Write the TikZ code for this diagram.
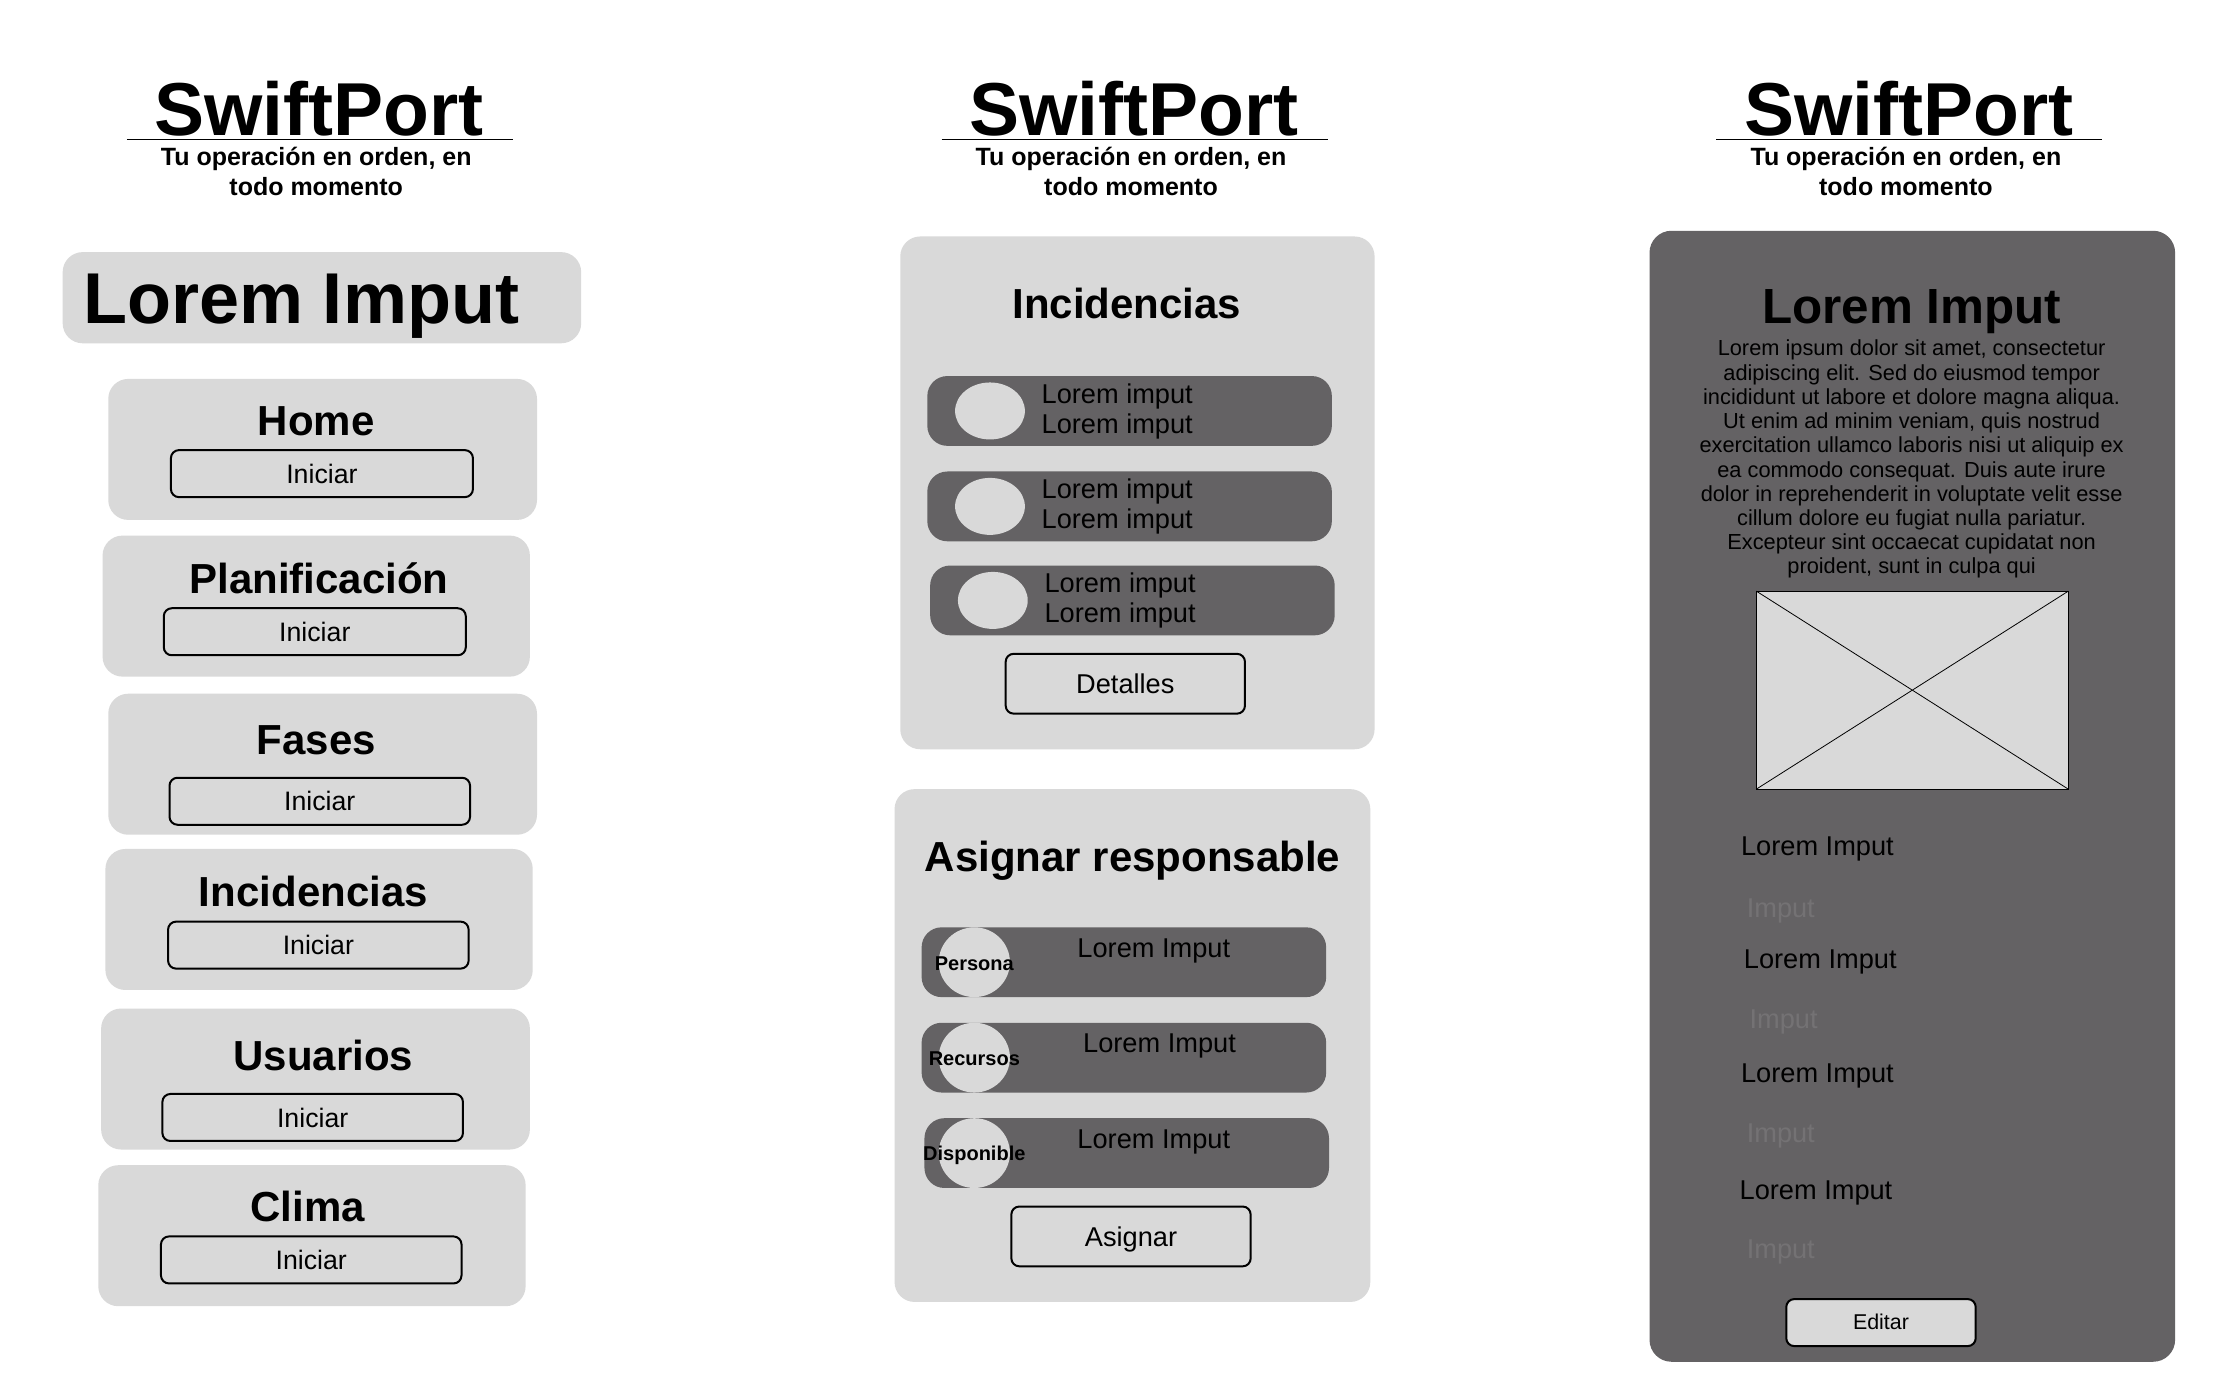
\documentclass[tikz,border=0pt]{standalone}
\usepackage{fontspec}
\setmainfont{Liberation Sans}
\definecolor{lightg}{HTML}{D9D9D9}
\definecolor{darkg}{HTML}{646264}
\definecolor{faintg}{HTML}{747274}
\newcommand{\fsz}[1]{\fontsize{#1}{#1}\selectfont}
\tikzset{
  lbl/.style={inner sep=0pt, anchor=base},
  lblw/.style={inner sep=0pt, anchor=base west},
  cardbox/.style={fill=lightg, rounded corners=10pt},
  rowbox/.style={fill=darkg, rounded corners=10pt},
  btnbox/.style={draw=black, line width=1pt, rounded corners=4pt},
  brand/.style={lbl, font=\fsz{37.5}\bfseries},
  tagline/.style={inner sep=0pt, anchor=base, align=center, font=\fontsize{12.5}{14.9}\selectfont\bfseries},
  cardtitle/.style={lbl, font=\fsz{21}\bfseries},
  btntext/.style={lbl, font=\fsz{13.35}},
  rowtext/.style={lblw, font=\fsz{13.6}},
  tagtext/.style={lbl, font=\fsz{10}\bfseries},
}
\begin{document}
\begin{tikzpicture}[x=0.7122pt,y=-0.7122pt]
\useasboundingbox[fill=white] (0,0) rectangle (1555,972.4);

% ---------- headers ----------
\foreach \cx/\lx/\rx/\nm in {224/89/360/a, 796/661/932/b, 1340/1205/1476/c}{
  \node[brand] (brand\nm) at (\cx,95) {SwiftPort};
  \draw[line width=0.7pt] (\lx,98) -- (\rx,98);
  \node[tagline] (tag\nm) at (\cx-2,137) {Tu operación en orden, en\\todo momento};
}

% ---------- left column ----------
\fill[cardbox] (44,177) rectangle (408,241);
\node[lblw, font=\fsz{36}\bfseries] (bigtitle) at (58,227) {Lorem Imput};

\foreach \xa/\ya/\xb/\yb/\tt/\tx/\ty/\bxa/\bya/\bxb/\byb/\nm in {
  76/266/377/365/Home/222/295/120/316/332/349/h,
  72/376/372/475/Planificación/224/406/115/427/327/460/p,
  76/487/377/586/Fases/222/519/119/546/330/579/f,
  74/596/374/695/Incidencias/220/626/118/647/329/680/i,
  71/708/372/807/Usuarios/227/741/114/768/325/801/u,
  69/818/369/917/Clima/216/847/113/868/324/901/c}{
  \fill[cardbox] (\xa,\ya) rectangle (\xb,\yb);
  \node[cardtitle] (title\nm) at (\tx,\ty+10.5) {\tt};
  \draw[btnbox] (\bxa,\bya) rectangle (\bxb,\byb);
  \node[btntext] (btn\nm) at ({(\bxa+\bxb)/2},{(\bya+\byb)/2+6.7}) {Iniciar};
}

% ---------- middle column: Incidencias ----------
\fill[cardbox] (632,166) rectangle (965,526);
\node[cardtitle] (inctitle) at (791,223.5) {Incidencias};
\foreach \xa/\ya/\nm in {651/264/a, 651/331/b, 653/397/c}{
  \fill[rowbox] (\xa,\ya) rectangle (\xa+284,\ya+49);
  \fill[lightg] (\xa+44,\ya+24.5) ellipse [x radius=24.5, y radius=20];
  \node[rowtext] (inca\nm) at (\xa+80,\ya+19) {Lorem imput};
  \node[rowtext] (incb\nm) at (\xa+80,\ya+40) {Lorem imput};
}
\draw[btnbox] (706,459) rectangle (874,501);
\node[btntext, font=\fsz{13.6}] (detalles) at (790,486.8) {Detalles};

% ---------- middle column: Asignar responsable ----------
\fill[cardbox] (628,554) rectangle (962,914);
\node[cardtitle] (asigtitle) at (795,611.5) {Asignar responsable};
\foreach \xa/\ya/\tg/\lx/\nm in {647/651/Persona/810/a, 647/718/Recursos/814/b, 649/785/Disponible/810/c}{
  \fill[rowbox] (\xa,\ya) rectangle (\xa+284,\ya+49);
  \fill[lightg] (684,\ya+24.5) ellipse [x radius=25, y radius=24.5];
  \node[tagtext] (tg\nm) at (684,\ya+30) {\tg};
  \node[lbl, font=\fsz{13.6}] (asl\nm) at (\lx,\ya+21) {Lorem Imput};
}
\draw[btnbox] (710,847) rectangle (878,889);
\node[btntext, font=\fsz{13.6}] (asignar) at (794,874.8) {Asignar};

% ---------- right column ----------
\fill[darkg, rounded corners=11pt] (1158,162) rectangle (1527,956);
\node[lbl, font=\fsz{24.7}\bfseries] (rtitle) at (1342,227) {Lorem Imput};
\node[inner sep=0pt, anchor=north, align=center, font=\fontsize{10.9}{12.11}\selectfont] (para) at (1342,238.5)
 {Lorem ipsum dolor sit amet, consectetur\\
  adipiscing elit. Sed do eiusmod tempor\\
  incididunt ut labore et dolore magna aliqua.\\
  Ut enim ad minim veniam, quis nostrud\\
  exercitation ullamco laboris nisi ut aliquip ex\\
  ea commodo consequat. Duis aute irure\\
  dolor in reprehenderit in voluptate velit esse\\
  cillum dolore eu fugiat nulla pariatur.\\
  Excepteur sint occaecat cupidatat non\\
  proident, sunt in culpa qui};
\draw[fill=lightg, line width=0.5pt] (1233,415) rectangle (1452,554);
\draw[line width=0.4pt] (1233,415) -- (1452,554) (1233,554) -- (1452,415);

\foreach \lx/\ly/\ix/\iy/\nm in {1222/600.8/1226/643.8/a, 1224/679.8/1228/721.8/b, 1222/759.8/1226/801.8/c, 1221/841.8/1226/883.8/d}{
  \node[rowtext] (rl\nm) at (\lx,\ly) {Lorem Imput};
  \node[rowtext, text=faintg] (ri\nm) at (\ix,\iy) {Imput};
}
\draw[btnbox, fill=lightg] (1254,912) rectangle (1387,945);
\node[lbl, font=\fsz{10.7}] (editar) at (1320.5,933.5) {Editar};
\end{tikzpicture}
\end{document}
